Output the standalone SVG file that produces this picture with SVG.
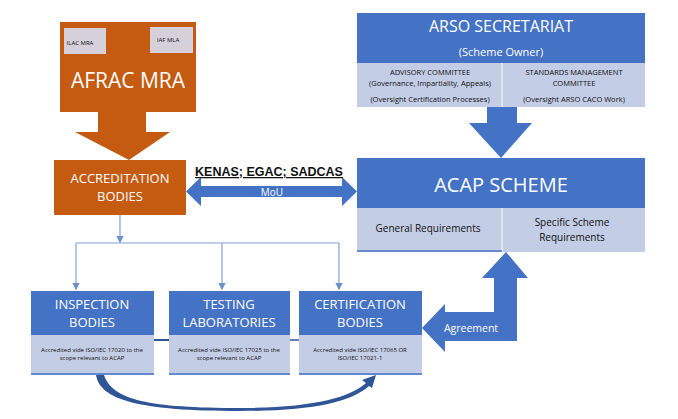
<svg xmlns="http://www.w3.org/2000/svg" width="678" height="419" viewBox="0 0 678 419">
<style>
text{font-family:"Open Sans","Liberation Sans",sans-serif;text-anchor:middle}
.w{fill:#fff}.k{fill:#111}
.or{fill:#C55A11}.bl{fill:#4472C4}.lt{fill:#C3CDE6}
.ln{stroke:#7F9FD3;stroke-width:1.2;fill:none}
</style>
<defs><marker id="a" markerWidth="6" markerHeight="6" refX="5" refY="3" orient="auto"><path d="M0,0 L6,3 L0,6 z" fill="#6E8FCB"/></marker></defs>
<rect width="678" height="419" fill="#fff"/>
<g id="afrac">
<rect class="or" x="60" y="22" width="136" height="90"/>
<rect x="64" y="28" width="42" height="26" fill="#D6D0DA"/>
<rect x="150" y="27" width="43" height="26" fill="#D6D0DA"/>
<text x="80" y="45" font-size="6" class="k">ILAC MRA</text>
<text x="168" y="42" font-size="6" class="k">IAF MLA</text>
<text x="128" y="88" font-size="21" class="w">AFRAC MRA</text>
<path class="or" d="M98,112 H146 V132 H170 L129,160 L75,132 H98 Z"/>
</g>
<g id="accreditation">
<rect class="or" x="54" y="160" width="132" height="55"/>
<text x="120" y="183" font-size="13" class="w">ACCREDITATION</text>
<text x="120" y="201" font-size="13" class="w">BODIES</text>
</g>
<g id="arso">
<rect class="bl" x="357" y="13" width="288" height="50"/>
<rect class="lt" x="357" y="63" width="288" height="44"/>
<line x1="502" y1="63" x2="502" y2="107" stroke="#fff" stroke-width="1"/>
<text x="501" y="32" font-size="16" class="w">ARSO SECRETARIAT</text>
<text x="501" y="56" font-size="11" class="w">(Scheme Owner)</text>
<text x="430" y="75" font-size="7.5" class="k">ADVISORY COMMITTEE</text>
<text x="430" y="86" font-size="7.5" class="k">(Governance, Impartiality, Appeals)</text>
<text x="430" y="102" font-size="7.5" class="k">(Oversight Certification Processes)</text>
<text x="574" y="75" font-size="7.5" class="k">STANDARDS MANAGEMENT</text>
<text x="574" y="86" font-size="7.5" class="k">COMMITTEE</text>
<text x="574" y="102" font-size="7.5" class="k">(Oversight ARSO CACO Work)</text>
<path class="bl" d="M487,107 H517 V123 H532 L501,158 L469,123 H487 Z"/>
</g>
<g id="acap">
<rect class="bl" x="357" y="158" width="288" height="50"/>
<rect class="lt" x="357" y="208" width="288" height="44"/>
<line x1="502" y1="208" x2="502" y2="252" stroke="#fff" stroke-width="1"/>
<line x1="357" y1="251" x2="502" y2="251" stroke="#4472C4" stroke-width="1.5"/>
<text x="501" y="192" font-size="20" class="w">ACAP SCHEME</text>
<text x="428" y="232" font-size="10" class="k">General Requirements</text>
<text x="572" y="226" font-size="10" class="k">Specific Scheme</text>
<text x="572" y="241" font-size="10" class="k">Requirements</text>
</g>
<g id="inspection">
<rect class="bl" x="31" y="291" width="123" height="44"/>
<rect class="lt" x="31" y="335" width="123" height="40"/>
<line x1="31" y1="374" x2="154" y2="374" stroke="#4472C4" stroke-width="1.5"/>
<text x="92" y="309" font-size="13" class="w">INSPECTION</text>
<text x="92" y="327" font-size="13" class="w">BODIES</text>
<text x="92" y="352" font-size="6" class="k">Accredited vide ISO/IEC 17020  to the</text>
<text x="92" y="360" font-size="6" class="k">scope relevant to ACAP</text>
</g>
<g id="testing">
<rect class="bl" x="169" y="291" width="121" height="44"/>
<rect class="lt" x="169" y="335" width="121" height="40"/>
<line x1="169" y1="374" x2="290" y2="374" stroke="#4472C4" stroke-width="1.5"/>
<text x="229" y="309" font-size="13" class="w">TESTING</text>
<text x="229" y="327" font-size="13" class="w">LABORATORIES</text>
<text x="229" y="352" font-size="6" class="k">Accredited vide ISO/IEC 17025  to the</text>
<text x="229" y="360" font-size="6" class="k">scope relevant to ACAP</text>
</g>
<g id="certification">
<rect class="bl" x="299" y="291" width="123" height="44"/>
<rect class="lt" x="299" y="335" width="123" height="40"/>
<line x1="299" y1="374" x2="422" y2="374" stroke="#4472C4" stroke-width="1.5"/>
<text x="360" y="309" font-size="13" class="w">CERTIFICATION</text>
<text x="360" y="327" font-size="13" class="w">BODIES</text>
<text x="360" y="352" font-size="6" class="k">Accredited vide ISO/IEC 17065 OR</text>
<text x="360" y="360" font-size="6" class="k">ISO/IEC 17021-1</text>
</g>
<g id="connectors">
<path class="ln" d="M120,215 V242" marker-end="url(#a)"/>
<path class="ln" d="M76,243 H339"/>
<path class="ln" d="M76,243 V289" marker-end="url(#a)"/>
<path class="ln" d="M222,243 V289" marker-end="url(#a)"/>
<path class="ln" d="M339,243 V289" marker-end="url(#a)"/>
<line x1="154" y1="340" x2="169" y2="340" stroke="#2F5597" stroke-width="2"/>
<line x1="290" y1="340" x2="299" y2="340" stroke="#2F5597" stroke-width="1.5"/>
<path class="bl" d="M186,191.5 L201,177 V186 H342 V177 L357,191.5 L342,206 V197 H201 V206 Z"/>
<text x="272" y="196" font-size="10" class="w">MoU</text>
<text x="269" y="176" font-size="12.5" font-weight="bold" style="font-family:'Liberation Sans',sans-serif" class="k" text-decoration="underline">KENAS; EGAC; SADCAS</text>
<path class="bl" d="M422,328 L445,304 V312 H494 V278 H482 L506,252 L528,278 H517 V341 H445 V352 Z"/>
<text x="471" y="332" font-size="10.5" class="w">Agreement</text>
<path fill="#2F5597" d="M96,375 H104 C112,400 150,408 240,408 C310,408 350,398 366,383 L362,380 L376,375 L372,388 L369,386 C350,403 310,411 240,411 C140,411 100,400 96,375 Z"/>
</g>
</svg>
